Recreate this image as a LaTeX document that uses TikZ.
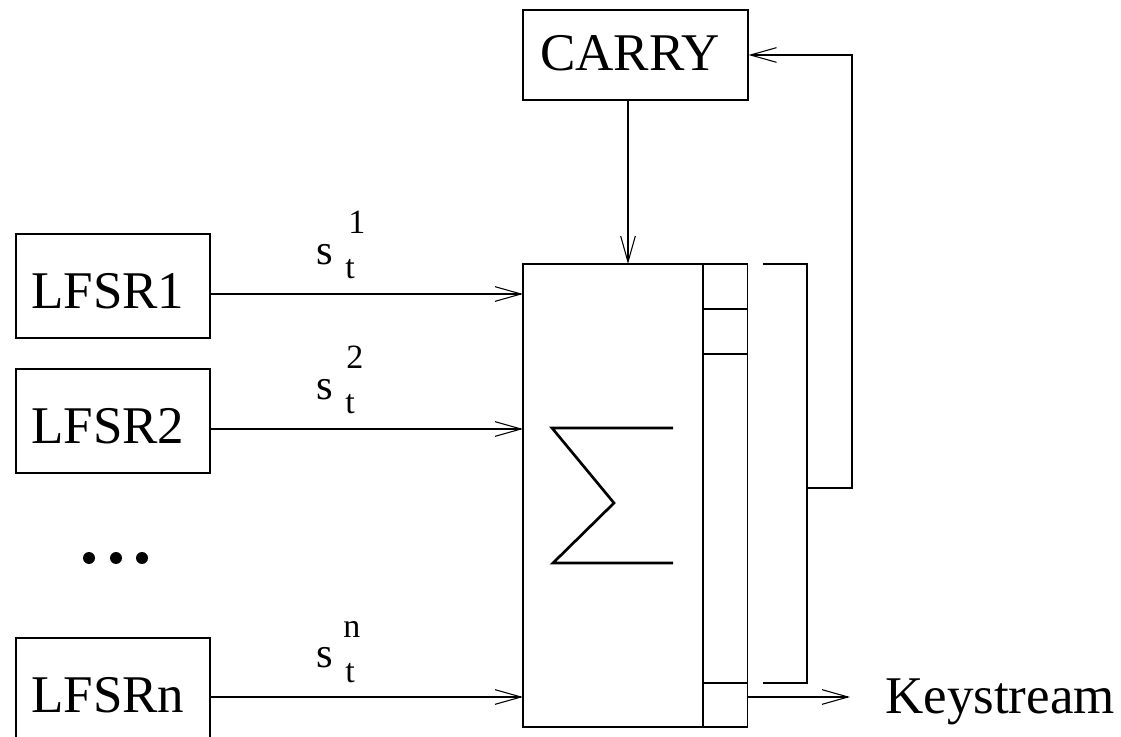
\documentclass[tikz,border=0pt]{standalone}
\usepackage{fontspec}
\setmainfont{Liberation Serif}
\usetikzlibrary{arrows.meta}
\begin{document}
\begin{tikzpicture}[x=0.75pt,y=-0.75pt,
  ln/.style={line width=0.8pt},
  arr/.style={ln,-{Straight Barb[length=19.5pt,width=11pt,line width=0.8pt]}},
  boxnode/.style={draw,ln,inner sep=0pt},
  big/.style={inner sep=0pt,anchor=base west,font=\fontsize{39.75}{44}\selectfont},
  slbl/.style={inner sep=0pt,anchor=base west,font=\fontsize{32}{36}\selectfont},
  sclbl/.style={inner sep=0pt,anchor=base west,font=\fontsize{25.5}{28}\selectfont}]
\clip (0,0) rectangle (1121,737);
% LFSR boxes
\node[boxnode,minimum width=145.5pt,minimum height=78pt] (l1) at (113,286) {};
\node[boxnode,minimum width=145.5pt,minimum height=78pt] (l2) at (113,421) {};
\node[boxnode,minimum width=145.5pt,minimum height=78pt] (ln) at (113,690) {};
\node[big] (t1) at (31,309) {LFSR1};
\node[big] (t2) at (31,444) {LFSR2};
\node[big] (tn) at (31,712) {LFSRn};
% dots
\fill (89,558) circle (4.5pt);
\fill (116,558) circle (4.5pt);
\fill (142,558) circle (4.5pt);
% CARRY
\node[boxnode,minimum width=168.75pt,minimum height=67.5pt] (carry) at (635.5,55) {};
\node[big] (ct) at (540,71) {CARRY};
% main box
\node[draw,line width=1pt,inner sep=0pt,minimum width=168.4pt,minimum height=347.25pt] (main) at (635.25,495.5) {};
\draw[line width=1pt] (703,264) -- (703,727);
\draw[line width=1pt] (703,309) -- (747.5,309);
\draw[line width=1pt] (703,354) -- (747.5,354);
\draw[line width=1pt] (703,683) -- (747.5,683);
% sigma
\draw[line width=2pt,line join=miter] (673,428) -- (552,428) -- (614,503) -- (553,563) -- (673,563);
% inputs
\coordinate (i1) at (523,294);
\coordinate (i2) at (523,429);
\coordinate (in) at (523,697);
\draw[arr] (l1.east |- i1) -- (i1);
\draw[arr] (l2.east |- i2) -- (i2);
\draw[arr] (ln.east |- in) -- (in);
% labels s_t^i
\node[slbl] (s1) at (316,265) {s};
\node[sclbl] (u1) at (348,234) {1};
\node[sclbl] (d1) at (345,279) {t};
\node[slbl] (s2) at (316,400) {s};
\node[sclbl] (u2) at (346,369) {2};
\node[sclbl] (d2) at (345,414) {t};
\node[slbl] (sn) at (316,667) {s};
\node[sclbl] (un) at (343,637) {n};
\node[sclbl] (dn) at (345,682) {t};
% carry down
\coordinate (cin) at (628,264);
\draw[arr] (carry.south -| cin) -- (cin);
% bracket and feedback
\draw[ln] (763,264) -- (807,264) -- (807,683) -- (763,683);
\coordinate (fb) at (807,488);
\draw[arr] (fb) -- (852,488) -- (852,55) -- (carry.east);
% output
\coordinate (out) at (850,697);
\draw[arr] (main.east |- out) -- (out);
\node[big] (ks) at (885,713) {Keystream};
\end{tikzpicture}
\end{document}
